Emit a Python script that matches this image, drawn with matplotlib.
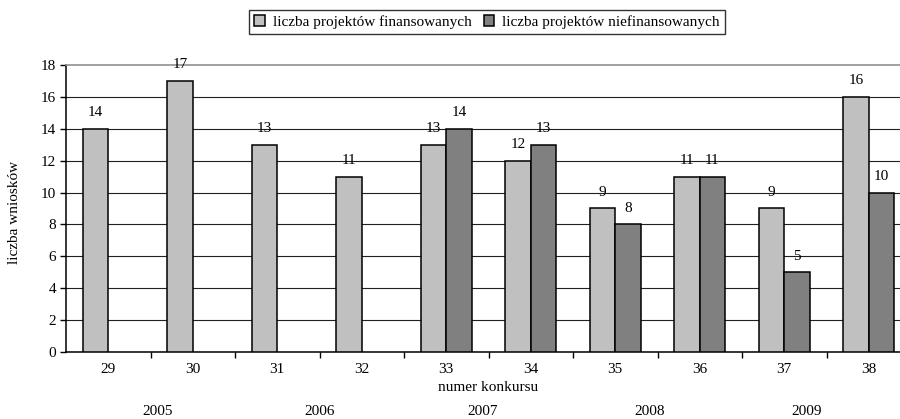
import matplotlib
matplotlib.use("Agg")
import matplotlib.pyplot as plt
import numpy as np

plt.rcParams['font.family'] = ['Liberation Serif', 'DejaVu Serif']

# dane
konkursy = ['29', '30', '31', '32', '33', '34', '35', '36', '37', '38']
finansowane = [14, 17, 13, 11, 13, 12, 9, 11, 9, 16]
niefinansowane = [0, 0, 0, 0, 14, 13, 8, 11, 5, 10]
lata = ['2005', '2006', '2007', '2008', '2009']
lata_x = [158, 320, 483, 650, 807]  # położenie podpisów lat w pikselach

fs = 11

fig = plt.figure(figsize=(9, 4.19), dpi=100)
ax = fig.add_axes([66 / 900, 67 / 419, 845 / 900, 287 / 419])

x = np.arange(len(konkursy))
w = 0.30
handles = []
for serie, off, kolor, nazwa in [
        (finansowane, -w / 2, '#c0c0c0', 'liczba projektów finansowanych'),
        (niefinansowane, w / 2, '#808080', 'liczba projektów niefinansowanych')]:
    v = np.array(serie)
    m = v > 0  # brak słupka dla zera
    b = ax.bar(x[m] + off, v[m], w, color=kolor, edgecolor='black',
               linewidth=1.1, label=nazwa, zorder=3)
    handles.append(b)
    for xi, vi in zip(x[m] + off, v[m]):
        ax.text(xi, vi + 1.0, str(vi), ha='center', va='center', fontsize=fs, zorder=4)

ax.set_xlim(-0.5, len(konkursy) - 0.5)
ax.set_ylim(0, 18)
ax.set_yticks(np.arange(0, 19, 2))
ax.tick_params(axis='y', labelsize=fs, length=4, width=1, direction='out', pad=3)

ax.set_xticks(np.arange(0.5, len(konkursy) - 1, 1))
ax.set_xticklabels([])
ax.set_xticks(x, minor=True)
ax.set_xticklabels(konkursy, minor=True)
ax.tick_params(axis='x', which='major', length=4, width=1, direction='out')
ax.tick_params(axis='x', which='minor', length=0, labelsize=fs, pad=8)

ax.yaxis.grid(True, color='#202020', linewidth=0.8, zorder=0)
ax.get_ygridlines()[-1].set_visible(False)
ax.set_axisbelow(True)

ax.spines['right'].set_visible(False)
ax.spines['top'].set_color('#909090')
ax.spines['top'].set_linewidth(1.2)
ax.spines['left'].set_linewidth(1.1)
ax.spines['bottom'].set_linewidth(1.1)

fig.text(488 / 900, 1 - 387 / 419, 'numer konkursu', ha='center', va='center', fontsize=fs)
fig.text(15 / 900, 1 - 212 / 419, 'liczba wniosków', ha='center', va='center',
         rotation=90, fontsize=fs)
for lx, rok in zip(lata_x, lata):
    fig.text(lx / 900, 1 - 411 / 419, rok, ha='center', va='center', fontsize=fs)

leg = fig.legend(handles=handles, loc='center', bbox_to_anchor=(487 / 900, 1 - 22 / 419),
                 ncol=2, frameon=True, fancybox=False, edgecolor='black',
                 fontsize=fs, handlelength=0.7, handleheight=0.7,
                 handletextpad=0.5, columnspacing=0.8, borderpad=0.35,
                 borderaxespad=0)
leg.get_frame().set_linewidth(1.0)

fig.savefig('out.png', dpi=100)
